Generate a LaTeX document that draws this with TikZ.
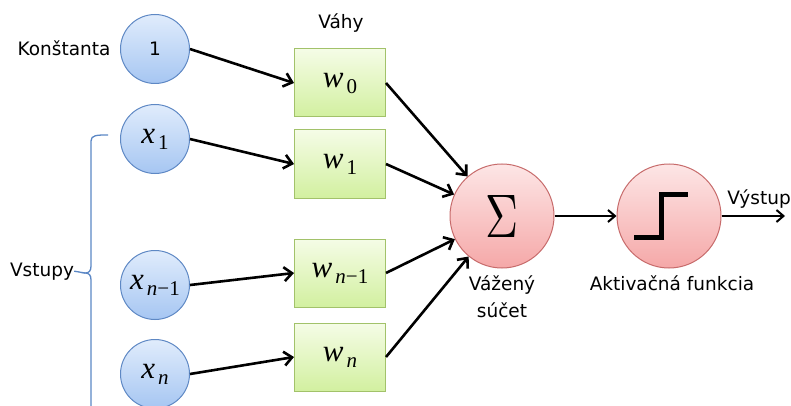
\documentclass[tikz,border=0pt]{standalone}
\usepackage{fontspec}
\usepackage{graphicx}
\newfontfamily\labfont{DejaVu Sans}
\newfontfamily\serfont{Liberation Serif}
\usetikzlibrary{arrows.meta}
\definecolor{blueB}{HTML}{5E88C4}
\definecolor{blueT}{HTML}{E0ECFC}
\definecolor{blueD}{HTML}{A6C6F2}
\definecolor{greenB}{HTML}{A2C26A}
\definecolor{greenT}{HTML}{F5FCE6}
\definecolor{greenD}{HTML}{D2F0A0}
\definecolor{redB}{HTML}{C76B6B}
\definecolor{redT}{HTML}{FDE6E6}
\definecolor{redD}{HTML}{F5A8A8}
\definecolor{braceC}{HTML}{5B87C5}
% variable with subscript, Times-like
\newcommand{\mvar}[2]{{\serfont\fontsize{31}{33}\selectfont\itshape #1}\kern3pt\raisebox{-6pt}{\serfont\fontsize{21}{22}\selectfont #2}}
\begin{document}
\begin{tikzpicture}[x=1pt,y=-1pt,
  inp/.style={circle, draw=blueB, line width=1pt, top color=blueT, bottom color=blueD, minimum size=69pt, inner sep=0pt},
  wbox/.style={rectangle, draw=greenB, line width=1pt, top color=greenT, bottom color=greenD, minimum width=91pt, minimum height=68pt, inner sep=0pt},
  opn/.style={circle, draw=redB, line width=1pt, top color=redT, bottom color=redD, minimum size=104pt, inner sep=0pt},
  lab/.style={font=\labfont\fontsize{18.5}{27}\selectfont, inner sep=0pt},
  conn/.style={line width=2.6pt, -{Straight Barb[length=8pt,width=14pt]}},
  outconn/.style={line width=2pt, -{Straight Barb[length=7pt,width=12pt]}},
  brace/.style={draw=braceC, line width=1.3pt}
]
\useasboundingbox (0,0) rectangle (791,406);

% input circles
\node[inp] (c0) at (155,49) {\labfont\fontsize{18.5}{22}\selectfont 1};
\node[inp] (x1) at (155,139) {\mvar{x}{1}};
\node[inp] (xn1) at (155,285) {\mvar{x}{\textit{n}−1}};
\node[inp] (xn) at (155,374) {\mvar{x}{\textit{n}}};

% weight boxes
\node[wbox] (w0) at (340,83) {\mvar{w}{0}};
\node[wbox] (w1) at (340,164) {\mvar{w}{1}};
\node[wbox] (wn1) at (340,273) {\mvar{w}{\textit{n}−1}};
\node[wbox] (wn) at (340,357) {\mvar{w}{\textit{n}}};

% sum and activation
\node[opn] (sum) at (502,216) {\resizebox{33pt}{42pt}{$\Sigma$}};
\node[opn] (act) at (669,216) {};
\draw[line width=5pt, shift={(act.center)}] (-35,21) -- (-8,21) -- (-8,-22) -- (19,-22);

% labels
\node[lab, anchor=base] (konst) at (64,56) {Konštanta};
\node[lab, anchor=base] (vahy) at (341,29) {Váhy};
\node[lab, anchor=base] (vstupy) at (42,276) {Vstupy};
\node[lab, anchor=base, align=center] (vs) at (502,317) {Vážený\\súčet};
\node[lab, anchor=base] (akt) at (672,290) {Aktivačná funkcia};
\node[lab, anchor=base] (vyst) at (759,204) {Výstup};

% connectors
\draw[conn] (c0.east) -- (w0.west);
\draw[conn] (x1.east) -- (w1.west);
\draw[conn] (xn1.east) -- (wn1.west);
\draw[conn] (xn.east) -- (wn.west);
\draw[conn] (w0.east) -- (sum);
\draw[conn] (w1.east) -- (sum);
\draw[conn] (wn1.east) -- (sum);
\draw[conn] (wn.east) -- (sum);
\draw[outconn] (sum.east) -- (act.west);
\coordinate (out) at (785,216);
\draw[outconn] (act.east) -- (out);

% brace
\coordinate (tip) at (85,273);
\draw[brace] (108,135) .. controls (97,135) and (91,135) .. (91,141) -- (91,266)
  .. controls (91,271) and (89,273) .. (tip)
  .. controls (89,273) and (91,275) .. (91,280) -- (91,412);
\draw[brace] (vstupy.east) -- (tip);
\end{tikzpicture}
\end{document}
